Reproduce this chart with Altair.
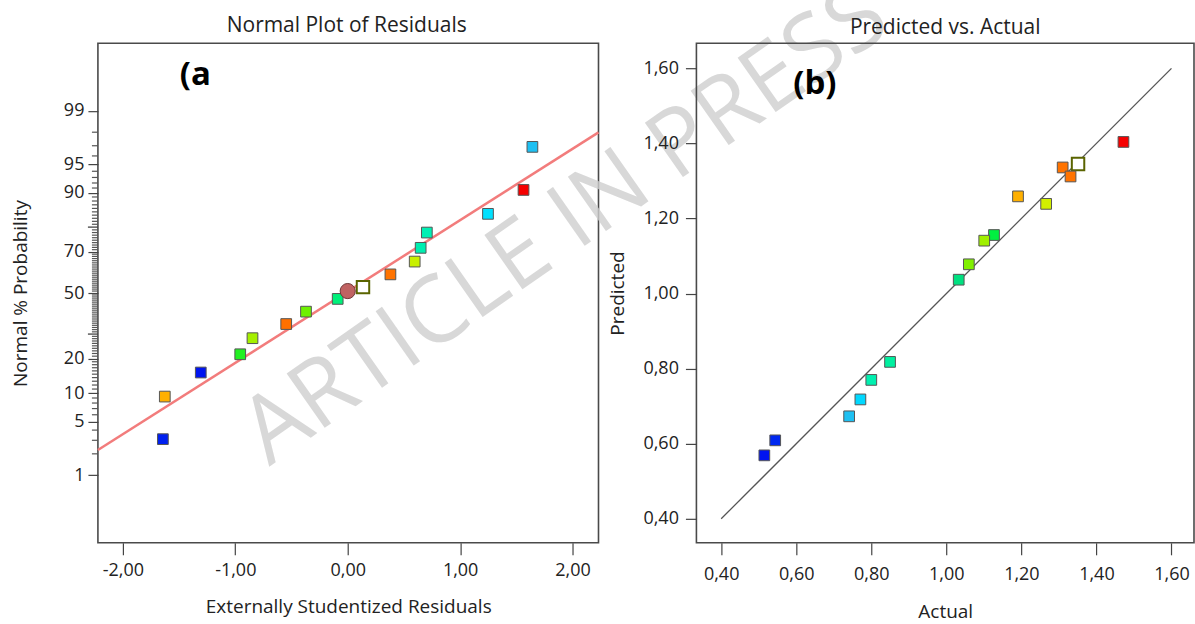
import altair as alt
import pandas as pd
from statistics import NormalDist

# ---------------- Panel (a): Normal plot of residuals ----------------
resid_a = [1.643, 1.564, 1.248, 0.704, 0.649, 0.596, 0.380, 0.136,
           -0.089, -0.371, -0.547, -0.847, -0.956, -1.307, -1.627, -1.644]
prob_a = [96.9, 90.6, 84.4, 78.0, 71.8, 65.6, 59.4, 53.0,
          47.0, 40.6, 34.6, 28.2, 21.7, 15.5, 9.3, 3.1]
fill_a = ["#1ec0f2", "#f50000", "#00e1ff", "#00f0b4", "#00eeb0", "#c8f000", "#ff7300", "#ffffff",
          "#00f07a", "#6ef000", "#ff7000", "#a5f000", "#22f022", "#0014f0", "#ffb000", "#0020f0"]
stroke_a = ["#555555"] * 7 + ["#5a6400"] + ["#555555"] * 8
sw_a = [1] * 7 + [2] + [1] * 8
size_a = [115] * 7 + [155] + [115] * 8

center_resid = [0.0]
center_prob = [51.0]

line_resid = [-2.222, 2.231]
line_prob = [2.25, 97.99]

prob_major = [1, 5, 10, 20, 50, 70, 90, 95, 99]
prob_long_unlabeled = [30, 80]
prob_minor = [p for p in range(2, 99) if p not in prob_major + prob_long_unlabeled]

# ---------------- Panel (b): Predicted vs. Actual ----------------
actual_b = [1.472, 1.351, 1.310, 1.331, 1.191, 1.266, 1.127, 1.101,
            1.060, 1.033, 0.850, 0.800, 0.771, 0.741, 0.544, 0.515]
pred_b = [1.404, 1.345, 1.336, 1.312, 1.259, 1.239, 1.156, 1.141,
          1.078, 1.037, 0.818, 0.770, 0.718, 0.673, 0.609, 0.569]
fill_b = ["#f50000", "#ffffff", "#ff7300", "#ff7300", "#ffb000", "#d2f000", "#00f040", "#a0f000",
          "#80f000", "#00e080", "#00f0a0", "#00f0b0", "#00d8ff", "#1ec0f2", "#0028f0", "#0014f0"]
stroke_b = ["#555555", "#5a6400"] + ["#555555"] * 14
sw_b = [1, 2] + [1] * 14
size_b = [115, 155] + [115] * 14

diag_vals = [0.40, 1.60]
xticks_b = [0.40, 0.60, 0.80, 1.00, 1.20, 1.40, 1.60]
xticks_a = [-2, -1, 0, 1, 2]

FONT = "Open Sans"
TXT = "#222222"
TICK = "#444444"
nd = NormalDist()

df_a = pd.DataFrame({"resid": resid_a, "prob": prob_a, "fill": fill_a,
                     "stroke": stroke_a, "sw": sw_a, "size": size_a})
df_c = pd.DataFrame({"resid": center_resid, "prob": center_prob})
df_l = pd.DataFrame({"resid": line_resid, "prob": line_prob})
df_long = pd.DataFrame({"prob": [float(p) for p in prob_long_unlabeled]})
df_minor = pd.DataFrame({"prob": [float(p) for p in prob_minor]})

z_major = [nd.inv_cdf(p / 100) for p in prob_major]
label_expr = ""
for p, zp in zip(prob_major, z_major):
    label_expr += f"abs(datum.value - ({zp:.6f})) < 0.0005 ? '{p}' : "
label_expr += "''"

xa_scale = alt.Scale(domain=[-2.222, 2.231], nice=False, zero=False)
ya_scale = alt.Scale(domain=[-3.19, 3.19], nice=False, zero=False)

xa_axis = alt.Axis(values=xticks_a,
                   labelExpr="(datum.value < 0 ? '-' : '') + replace(format(abs(datum.value), '.2f'), '.', ',')",
                   title="Externally Studentized Residuals", tickSize=12, labelPadding=7,
                   titlePadding=18, grid=False, domain=False, labelFlush=False)
ya_axis = alt.Axis(values=z_major, labelExpr=label_expr, tickSize=10,
                   title="Normal % Probability", labelPadding=4, titlePadding=33,
                   grid=False, domain=False, labelOverlap=False, labelFlush=False)

zcalc = "quantileNormal(datum.prob / 100)"

line_a = alt.Chart(df_l).transform_calculate(z=zcalc).mark_line(
    color="#f27c7c", strokeWidth=2.5).encode(
    x=alt.X("resid:Q", scale=xa_scale, axis=xa_axis),
    y=alt.Y("z:Q", scale=ya_scale, axis=ya_axis))

long_ticks = alt.Chart(df_long).transform_calculate(z=zcalc).mark_tick(
    orient="horizontal", size=10, thickness=1.3, color=TICK, opacity=1).encode(
    y=alt.Y("z:Q", scale=ya_scale), x=alt.value(-5))

minor_ticks = alt.Chart(df_minor).transform_calculate(z=zcalc).mark_tick(
    orient="horizontal", size=6, thickness=1.2, color="#555555", opacity=1).encode(
    y=alt.Y("z:Q", scale=ya_scale), x=alt.value(-3))

pts_a = alt.Chart(df_a).transform_calculate(z=zcalc).mark_point(
    shape="square", filled=True, opacity=1).encode(
    x=alt.X("resid:Q", scale=xa_scale),
    y=alt.Y("z:Q", scale=ya_scale),
    fill=alt.Fill("fill:N", scale=None),
    stroke=alt.Stroke("stroke:N", scale=None),
    strokeWidth=alt.StrokeWidth("sw:Q", scale=None),
    size=alt.Size("size:Q", scale=None))

ctr_a = alt.Chart(df_c).transform_calculate(z=zcalc).mark_point(
    shape="circle", filled=True, size=230, fill="#c06262", stroke="#6e3838",
    strokeWidth=1, opacity=1).encode(
    x=alt.X("resid:Q", scale=xa_scale),
    y=alt.Y("z:Q", scale=ya_scale))

wm = alt.Chart(pd.DataFrame({"t": ["ARTICLE IN PRESS"]})).mark_text(
    angle=325, fontSize=93, font=FONT, color="#cfcfcf", opacity=0.8,
    align="center", baseline="middle").encode(
    text="t:N", x=alt.value(468), y=alt.value(182))

lab_a = alt.Chart(pd.DataFrame({"t": ["(a"]})).mark_text(
    fontSize=33, font=FONT, fontWeight="bold", color="#000000",
    align="left", baseline="alphabetic").encode(
    text="t:N", x=alt.value(82), y=alt.value(42))

title_a = alt.Chart(pd.DataFrame({"t": ["Normal Plot of Residuals"]})).mark_text(
    fontSize=21, font=FONT, color=TXT, align="center", baseline="alphabetic").encode(
    text="t:N", x=alt.value(249), y=alt.value(-11))

left = alt.layer(wm, line_a, minor_ticks, long_ticks, pts_a, ctr_a, lab_a, title_a).properties(
    width=501, height=500)

# ----- right panel -----
df_b = pd.DataFrame({"actual": actual_b, "pred": pred_b, "fill": fill_b,
                     "stroke": stroke_b, "sw": sw_b, "size": size_b})
df_d = pd.DataFrame({"actual": diag_vals, "pred": diag_vals})

xb_scale = alt.Scale(domain=[0.334, 1.660], nice=False, zero=False)
yb_scale = alt.Scale(domain=[0.336, 1.667], nice=False, zero=False)
numexpr = "replace(format(datum.value, '.2f'), '.', ',')"

xb_axis = alt.Axis(values=xticks_b, labelExpr=numexpr, title="Actual", tickSize=12,
                   labelPadding=11, titlePadding=19, grid=False, domain=False, labelFlush=False)
yb_axis = alt.Axis(values=xticks_b, labelExpr=numexpr, title="Predicted", tickSize=11,
                   labelPadding=7, titlePadding=15, grid=False, domain=False, labelFlush=False)

diag = alt.Chart(df_d).mark_line(color="#555555", strokeWidth=1.3).encode(
    x=alt.X("actual:Q", scale=xb_scale, axis=xb_axis),
    y=alt.Y("pred:Q", scale=yb_scale, axis=yb_axis))

pts_b = alt.Chart(df_b).mark_point(shape="square", filled=True, opacity=1).encode(
    x=alt.X("actual:Q", scale=xb_scale),
    y=alt.Y("pred:Q", scale=yb_scale),
    fill=alt.Fill("fill:N", scale=None),
    stroke=alt.Stroke("stroke:N", scale=None),
    strokeWidth=alt.StrokeWidth("sw:Q", scale=None),
    size=alt.Size("size:Q", scale=None))

lab_b = alt.Chart(pd.DataFrame({"t": ["(b)"]})).mark_text(
    fontSize=33, font=FONT, fontWeight="bold", color="#000000",
    align="left", baseline="alphabetic").encode(
    text="t:N", x=alt.value(97), y=alt.value(51))

title_b = alt.Chart(pd.DataFrame({"t": ["Predicted vs. Actual"]})).mark_text(
    fontSize=21, font=FONT, color=TXT, align="center", baseline="alphabetic").encode(
    text="t:N", x=alt.value(249), y=alt.value(-9))

right = alt.layer(diag, pts_b, lab_b, title_b).properties(width=498, height=500)

chart = alt.hconcat(left, right, spacing=98, bounds="flush").configure(
    padding={"left": 10, "top": -33, "right": 0, "bottom": 0},
    background="white", font=FONT
).configure_view(
    stroke="#4a4a4a", strokeWidth=1.6
).configure_axis(
    labelFont=FONT, labelFontSize=18, labelColor=TXT,
    titleFont=FONT, titleFontSize=19, titleFontWeight="normal", titleColor=TXT,
    tickColor=TICK, tickWidth=1.2
)

chart.save("out.html", embed_options={"renderer": "svg", "actions": False})
